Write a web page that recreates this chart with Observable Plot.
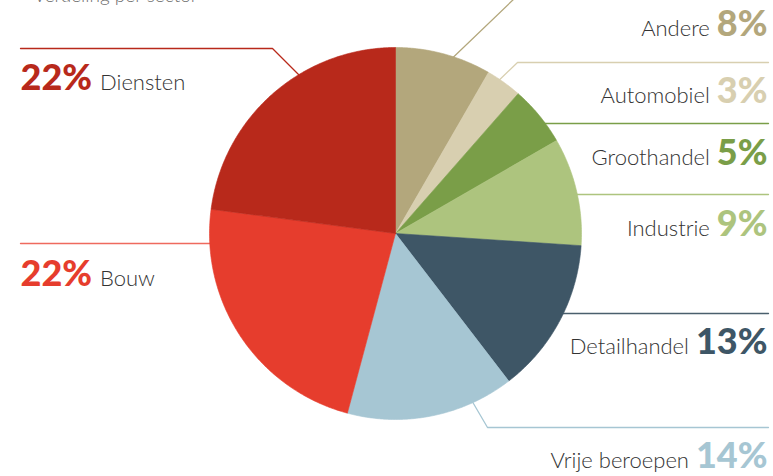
<!DOCTYPE html>
<html>
<head>
<meta charset="utf-8">
<script src="https://cdn.jsdelivr.net/npm/d3@7"></script>
<script src="https://cdn.jsdelivr.net/npm/@observablehq/plot@0.6"></script>
<style>
  html, body { margin: 0; padding: 0; background: #fff; }
</style>
</head>
<body>
<div id="chart"></div>
<script>
// ---- data ----
const sectors = ["Andere", "Automobiel", "Groothandel", "Industrie", "Detailhandel", "Vrije beroepen", "Bouw", "Diensten"];
const shares = [8, 3, 5, 9, 13, 14, 22, 22];
const labels = ["8%", "3%", "5%", "9%", "13%", "14%", "22%", "22%"];
const title = "Verdeling per sector";

// ---- styles / layout ----
const sliceColors = ["#b3a77c", "#d8cfb0", "#7a9e48", "#adc47e", "#3e5666", "#a6c6d3", "#e63d2d", "#b8291b"];
const leaderColors = ["#b3a77c", "#d8cfb0", "#7a9e48", "#adc47e", "#4a5f6d", "#a6c6d3", "#ef6a5e", "#b8291b"];
const W = 773, H = 476;
const cx = 395, cy = 233, R = 186;
const side = ["right", "right", "right", "right", "right", "right", "left", "left"];
const baselines = [35, 102, 164, 235, 353, 467, 285, 89];
const leaders = [
  [[440, 69], [515, -3]],
  [[490, 88], [517, 62], [768, 62]],
  [[520, 123], [768, 123]],
  [[560, 194], [768, 194]],
  [[540, 313], [768, 313]],
  [[463, 386], [487, 427], [768, 427]],
  [[20, 243], [240, 243]],
  [[20, 48], [272, 48], [310, 86]]
];
const rightX = 767, leftX = 20;
const pctSize = 36, nameSize = 22;
const pctFont = `900 ${pctSize}px Lato`;

// measure text widths
const ctx = document.createElement("canvas").getContext("2d");
function tw(t, f) { ctx.font = f; return ctx.measureText(t).width; }

// pie geometry computed from shares
const arcs = d3.pie().sort(null).startAngle(0).endAngle(2 * Math.PI)(shares);
const slices = arcs.map((a, i) => {
  const pts = [{x: cx, y: cy}];
  const n = Math.max(4, Math.ceil((a.endAngle - a.startAngle) / (Math.PI / 360)));
  for (let k = 0; k <= n; k++) {
    const t = a.startAngle + (a.endAngle - a.startAngle) * k / n;
    pts.push({x: cx + R * Math.sin(t), y: cy - R * Math.cos(t)});
  }
  pts.push({x: cx, y: cy});
  return {pts, color: sliceColors[i]};
});

// text rows
const pctRows = sectors.map((s, i) => ({
  x: side[i] === "right" ? rightX : leftX,
  y: baselines[i], text: labels[i], color: sliceColors[i],
  anchor: side[i] === "right" ? "end" : "start"
}));
const nameRows = sectors.map((s, i) => {
  const w = tw(labels[i], pctFont);
  return {
    x: side[i] === "right" ? rightX - w - 7 : leftX + w + 8,
    y: baselines[i], text: s,
    anchor: side[i] === "right" ? "end" : "start"
  };
});

const marks = [];
leaders.forEach((pts, i) => {
  marks.push(Plot.line(pts, {x: d => d[0], y: d => d[1], stroke: leaderColors[i], strokeWidth: 1.3}));
});
slices.forEach(s => {
  marks.push(Plot.line(s.pts, {x: "x", y: "y", fill: s.color, stroke: s.color, strokeWidth: 0.6, curve: "linear"}));
});
["start", "end"].forEach(anchor => {
  marks.push(Plot.text(pctRows.filter(d => d.anchor === anchor), {
    x: "x", y: "y", text: "text", fill: d => d.color, textAnchor: anchor, lineAnchor: "bottom",
    fontSize: pctSize, fontWeight: 900, fontFamily: "Lato"
  }));
  marks.push(Plot.text(nameRows.filter(d => d.anchor === anchor), {
    x: "x", y: "y", text: "text", fill: "#333333", textAnchor: anchor, lineAnchor: "bottom",
    fontSize: nameSize, fontWeight: 300, fontFamily: "Lato"
  }));
});
marks.push(Plot.text([title], {
  x: () => 33, y: () => 1, text: d => d, fill: "#6f6f6f", textAnchor: "start", lineAnchor: "bottom",
  fontSize: 19, fontWeight: 300, fontFamily: "Lato"
}));

const chart = Plot.plot({
  width: W, height: H,
  margin: 0,
  x: {domain: [0, W], range: [0, W], axis: null},
  y: {domain: [0, H], range: [0, H], axis: null},
  color: {type: "identity"},
  style: {background: "#ffffff", overflow: "hidden"},
  marks
});
document.getElementById("chart").appendChild(chart);
</script>
</body>
</html>
